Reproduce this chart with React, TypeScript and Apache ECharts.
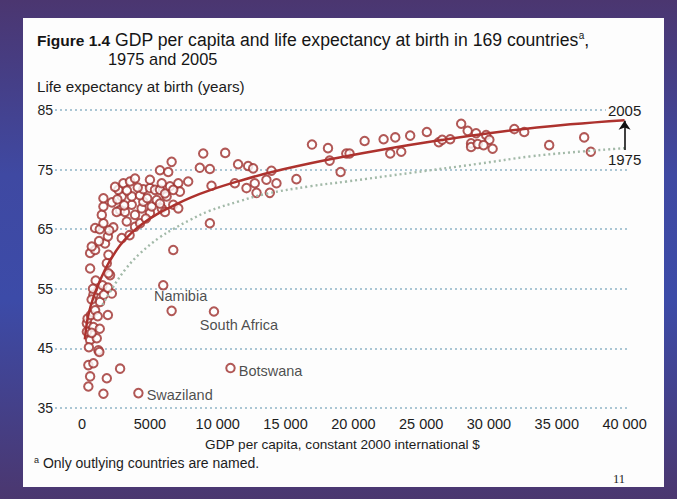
import { useEffect, useRef } from 'react';
import * as echarts from 'echarts';

const FONT = '"Liberation Sans", Arial, Helvetica, sans-serif';

const xTicks = [0, 5000, 10000, 15000, 20000, 25000, 30000, 35000, 40000];
const yTicks = [35, 45, 55, 65, 75, 85];

// [GDP per capita, life expectancy] in 2005
const countries: [number, number][] = [
  [350, 49.2], [350, 47.8], [590, 46.4], [830, 48.6], [1080, 46.7], [1200, 44.7], [1270, 44.4],
  [460, 42.2], [830, 42.5], [590, 40.3], [1820, 40.0], [460, 38.6], [1570, 37.4], [2800, 41.6],
  [500, 45.2], [700, 47.6], [1300, 48.3], [400, 50.0], [650, 50.6], [960, 51.4], [1150, 50.4],
  [1900, 50.6], [1320, 52.8], [830, 54.0], [1200, 54.8], [2190, 54.2], [700, 53.2], [1500, 55.6],
  [1000, 56.4], [800, 55.0], [1600, 54.0], [1900, 55.2], [2060, 57.3], [1940, 57.6], [590, 58.4],
  [1820, 59.3], [1940, 60.7], [590, 61.0], [960, 61.5], [710, 62.1], [1690, 62.6], [1250, 63.0],
  [1900, 63.8], [2920, 63.5], [960, 65.2], [1300, 65.0], [1570, 66.0], [2300, 65.3], [1450, 67.4],
  [1570, 68.8], [1570, 70.2], [2000, 64.8], [3900, 65.4], [3500, 64.0], [4270, 66.0], [3290, 66.3],
  [2800, 68.2], [2550, 67.9], [3160, 67.9], [3900, 67.4], [5000, 67.7], [3660, 69.1], [4390, 68.5],
  [5130, 68.8], [5870, 68.5], [6720, 69.1], [7090, 68.5], [6110, 67.9], [2920, 70.5], [3660, 70.5],
  [4510, 69.6], [5500, 69.9], [6230, 70.5], [5740, 69.3], [4270, 70.7], [2670, 71.6], [2430, 72.1],
  [3040, 72.7], [3530, 73.0], [3900, 73.5], [4510, 71.7], [5000, 71.9], [5370, 71.6], [5740, 71.6],
  [6110, 71.0], [6480, 72.2], [5870, 72.7], [5000, 73.3], [7090, 72.7], [7820, 73.0], [7210, 71.3],
  [6720, 71.6], [5740, 74.9], [6350, 74.6], [6600, 76.3], [2200, 69.5], [2600, 70.0], [4800, 70.2],
  [3300, 71.5], [4100, 72.0], [3100, 69.0], [4700, 66.8],
  [8930, 77.7], [10550, 77.8], [8680, 75.3], [9420, 75.1], [11500, 75.9], [12240, 75.6],
  [12610, 75.2], [13960, 74.8], [13590, 73.3], [14330, 72.7], [12730, 72.7], [12120, 71.9],
  [12860, 71.1], [13840, 71.1], [11260, 72.7], [9540, 72.3], [15800, 73.4], [9420, 66.0],
  [6720, 61.5], [5980, 55.6],
  [16950, 79.2], [18130, 78.6], [18250, 76.5], [19060, 74.6], [19480, 77.7], [19720, 77.7],
  [20830, 79.8], [22230, 80.1], [22720, 77.7], [23090, 80.4], [23530, 78.0], [24190, 80.7],
  [25420, 81.3], [26300, 79.6], [26550, 80.0], [27140, 80.1], [27950, 82.7], [28430, 81.5],
  [29050, 81.1], [29790, 80.8], [30030, 80.0], [30270, 78.5], [28680, 79.4], [28680, 78.8],
  [29170, 79.3], [29600, 79.1], [31870, 81.8], [32600, 81.3], [34440, 79.1], [37020, 80.4],
  [37510, 78.0],
];

const namedCountries = ['Namibia', 'South Africa', 'Botswana', 'Swaziland'];
const namedValues: [number, number][] = [[6600, 51.3], [9720, 51.2], [10940, 41.7], [4150, 37.5]];

const curve2005: [number, number][] = [
  [200, 46.5], [450, 50.5], [900, 54.0], [1400, 56.8], [2000, 59.5], [2800, 62.3], [3600, 64.3],
  [4500, 66.0], [5500, 67.5], [6700, 68.9], [8000, 70.3], [9500, 71.6], [11600, 73.1], [14000, 74.6],
  [18000, 76.6], [22000, 78.3], [26000, 79.8], [31000, 81.4], [36000, 82.6], [40000, 83.3],
];
const curve1975: [number, number][] = [
  [1500, 52.3], [2200, 55.0], [3200, 58.3], [4300, 61.0], [5700, 63.6], [6700, 65.0], [8000, 66.6],
  [9300, 68.0], [11600, 69.7], [13500, 70.9], [16800, 72.2], [19500, 73.0], [24400, 74.5],
  [29300, 76.0], [33000, 77.2], [36100, 77.9], [40000, 78.6],
];

const RED = '#9e2e2c';
const TEXT = '#1c1c1c';

const labelPlacement: Record<string, any> = {
  Namibia: { position: 'top', distance: 2, offset: [9, 0] },
  'South Africa': { position: 'bottom', distance: 1, offset: [25, 0] },
  Botswana: { position: 'right', distance: 3, offset: [0, 3] },
  Swaziland: { position: 'right', distance: 3, offset: [0, 2] },
};

function fmt(v: number) {
  if (v >= 10000) {
    const s = String(v);
    return s.slice(0, s.length - 3) + ' ' + s.slice(s.length - 3);
  }
  return String(v);
}

export default function App() {
  const ref = useRef<HTMLDivElement>(null);
  useEffect(() => {
    if (!ref.current) return;
    const chart = echarts.init(ref.current, null, { renderer: 'svg' });
    const last2005 = curve2005[curve2005.length - 1];
    const last1975 = curve1975[curve1975.length - 1];
    const option: any = {
      animation: false,
      textStyle: { fontFamily: FONT },
      grid: { left: 55, right: 47, top: 110, bottom: 91 },
      xAxis: {
        type: 'value',
        min: -2000,
        max: 40400,
        axisLine: { show: false },
        axisTick: { show: false },
        splitLine: { show: false },
        axisLabel: {
          customValues: xTicks,
          formatter: (v: number) => fmt(v),
          fontSize: 14.5,
          color: TEXT,
          margin: 8,
          fontFamily: FONT,
        },
        name: 'GDP per capita, constant 2000 international $',
        nameLocation: 'middle',
        nameGap: 29,
        nameTextStyle: { fontSize: 13.6, color: TEXT, fontFamily: FONT },
      },
      yAxis: {
        type: 'value',
        min: yTicks[0],
        max: yTicks[yTicks.length - 1],
        interval: 10,
        axisLine: { show: false },
        axisTick: { show: false },
        axisLabel: { fontSize: 14, color: TEXT, margin: 2, fontFamily: FONT },
        splitLine: { lineStyle: { color: '#8fb4c6', width: 1.5, type: [2, 3] } },
      },
      graphic: [
        {
          type: 'rect',
          z: -10,
          silent: true,
          shape: { x: 23, y: 18, width: 641, height: 469 },
          style: { fill: '#fdfdfd' },
        },
        {
          type: 'text',
          left: 37,
          top: 30,
          z: 10,
          style: {
            text: '{b|Figure 1.4}{n| GDP per capita and life expectancy at birth in 169 countries}{sup|a}{n|,}',
            fontSize: 18,
            fontFamily: FONT,
            fill: '#151515',
            rich: {
              b: { fontWeight: 'bold', fontSize: 15.5, fontFamily: FONT, fill: '#151515', lineHeight: 20 },
              n: { fontSize: 17.6, fontFamily: FONT, fill: '#151515', lineHeight: 20 },
              sup: { fontSize: 10, fontFamily: FONT, fill: '#151515', verticalAlign: 'top', lineHeight: 20 },
            },
          },
        },
        {
          type: 'text',
          left: 108,
          top: 51,
          z: 10,
          style: { text: '1975 and 2005', fontSize: 16.4, fontFamily: FONT, fill: '#151515' },
        },
        {
          type: 'text',
          left: 37,
          top: 79,
          z: 10,
          style: { text: 'Life expectancy at birth (years)', fontSize: 15.2, fontFamily: FONT, fill: TEXT },
        },
        {
          type: 'text',
          left: 34,
          top: 455,
          z: 10,
          style: {
            text: '{sup|a} {n|Only outlying countries are named.}',
            fontSize: 14,
            fontFamily: FONT,
            fill: TEXT,
            rich: {
              sup: { fontSize: 9, fontFamily: FONT, fill: TEXT, verticalAlign: 'top', lineHeight: 16 },
              n: { fontSize: 14, fontFamily: FONT, fill: TEXT, lineHeight: 16 },
            },
          },
        },
        {
          type: 'text',
          left: 613,
          top: 472,
          z: 10,
          style: { text: '11', fontSize: 12.5, fontFamily: '"Liberation Serif", "Times New Roman", serif', fill: TEXT },
        },
      ],
      series: [
        {
          type: 'scatter',
          name: 'Countries',
          data: countries,
          symbol: 'circle',
          symbolSize: 8.5,
          itemStyle: { color: '#ffffff', borderColor: RED, borderWidth: 2 },
          z: 2,
        },
        {
          type: 'scatter',
          name: 'Named',
          data: namedCountries.map((n, i) => ({
            name: n,
            value: namedValues[i],
            label: { show: true, formatter: n, ...labelPlacement[n] },
          })),
          symbol: 'circle',
          symbolSize: 8.5,
          itemStyle: { color: '#ffffff', borderColor: RED, borderWidth: 2 },
          label: { fontSize: 14.5, color: TEXT, fontFamily: FONT },
          z: 2,
        },
        {
          type: 'line',
          name: '1975',
          data: curve1975,
          smooth: 0.4,
          showSymbol: false,
          lineStyle: { color: '#a2b9a8', width: 2.4, type: [2, 3] },
          z: 3,
          markLine: {
            silent: true,
            symbol: ['none', 'arrow'],
            symbolSize: 9,
            lineStyle: { color: '#111111', width: 1.6, type: 'solid' },
            label: { show: false },
            data: [[{ coord: [last1975[0], last1975[1] - 0.3] }, { coord: [last2005[0], last2005[1] - 0.1] }]],
          },
          markPoint: {
            symbol: 'circle',
            symbolSize: 0,
            silent: true,
            data: [
              {
                coord: last1975,
                label: {
                  show: true,
                  formatter: '1975',
                  position: 'bottom',
                  distance: 4,
                  fontSize: 15,
                  color: TEXT,
                  fontFamily: FONT,
                },
              },
            ],
          },
        },
        {
          type: 'line',
          name: '2005',
          data: curve2005,
          smooth: 0.4,
          showSymbol: false,
          lineStyle: { color: '#ad322e', width: 2.5 },
          z: 4,
          markPoint: {
            symbol: 'circle',
            symbolSize: 0,
            silent: true,
            data: [
              {
                coord: last2005,
                label: {
                  show: true,
                  formatter: '2005',
                  position: 'top',
                  distance: 2,
                  fontSize: 15,
                  color: TEXT,
                  fontFamily: FONT,
                  backgroundColor: '#fdfdfd',
                  padding: [0, 2],
                },
              },
            ],
          },
        },
      ],
    };
    chart.setOption(option);
    return () => chart.dispose();
  }, []);
  return (
    <div
      style={{
        position: 'absolute',
        left: 0,
        top: 0,
        width: 677,
        height: 499,
        background: 'linear-gradient(180deg, #4b3670 0%, #3f49a2 35%, #3c4ba8 60%, #4b376f 100%)',
      }}
    >
      <div ref={ref} style={{ width: 677, height: 499 }} />
    </div>
  );
}
